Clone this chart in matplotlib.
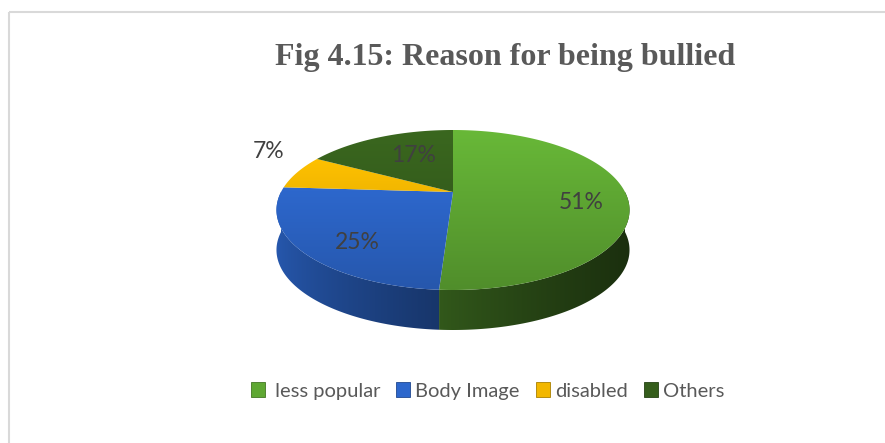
import numpy as np
import matplotlib
matplotlib.use("Agg")
import matplotlib.pyplot as plt
from matplotlib.patches import Polygon, Patch
from matplotlib.colors import to_rgb

# ---------------- data ----------------
categories = [" less popular", "Body Image", "disabled", "Others"]
values = [51, 25, 7, 17]
value_labels = ["51%", "25%", "7%", "17%"]
title = "Fig 4.15: Reason for being bullied"

# ---------------- style ----------------
colors = ["#5FA833", "#2D67CC", "#F2B700", "#355E1C"]
label_xy = [(581, 202), (357, 242), (269, 151), (414, 155)]  # text anchor positions (px)

W, H = 885, 443
fig = plt.figure(figsize=(W / 100, H / 100), dpi=100)
ax = fig.add_axes([0, 0, 1, 1])
ax.set_xlim(0, W)
ax.set_ylim(H, 0)
ax.axis("off")

# border (top and left only visible)
ax.plot([8.5, 8.5], [11.5, H], color="#D9D9D9", lw=1.5, solid_capstyle="butt")
ax.plot([8.5, W], [11.5, 11.5], color="#D9D9D9", lw=1.5, solid_capstyle="butt")

# ---------------- 3D pie geometry (perspective projection) ----------------
cx, cy = 453.0, 192.0      # projected pie centre
A = 172.0                  # horizontal scale
k = 0.225                  # perspective factor
p = -32.75                 # vertical scale term
depth = 40.0               # wall height in px


def proj(theta):
    u = np.sin(theta)
    v = np.cos(theta)
    d = 1 + k * v
    x = cx + A * u / d
    y = (p * v + cy) / d
    return x, y


def shade(c, f):
    return tuple(np.clip(np.array(to_rgb(c)) * f, 0, 1))


total = float(sum(values))
fracs = np.cumsum([0] + values) / total
starts = fracs[:-1] * 2 * np.pi
ends = fracs[1:] * 2 * np.pi

x_left, x_right = cx - 178, cx + 178
y_top, y_bot = 128, 332

ncols = 300
gx = np.linspace(0, 1, ncols)
gy = np.linspace(0, 1, 200)

# walls (front half only) with horizontal gradient
for i, (a0, a1) in enumerate(zip(starts, ends)):
    lo = max(a0, np.pi / 2)
    hi = min(a1, 3 * np.pi / 2)
    if hi <= lo:
        continue
    n = max(int(np.degrees(hi - lo) / 0.5), 2)
    th = np.linspace(lo, hi, n + 1)
    xs, ys = proj(th)
    pts = list(zip(xs, ys)) + list(zip(xs[::-1], ys[::-1] + depth))
    poly = Polygon(pts, closed=True, facecolor="none", edgecolor="none")
    ax.add_patch(poly)
    base = np.array(to_rgb(colors[i]))
    fac = 0.86 - 0.58 * gx ** 0.7
    img = np.clip(base[None, None, :] * fac[None, :, None], 0, 1)
    img = np.repeat(img, 2, axis=0)
    im = ax.imshow(img, extent=(x_left, x_right, y_bot, y_top),
                   origin="upper", aspect="auto", interpolation="bilinear", zorder=1)
    im.set_clip_path(poly)

# top faces with vertical gradient
ty0, ty1 = 128, 292
for i, (a0, a1) in enumerate(zip(starts, ends)):
    n = max(int(np.degrees(a1 - a0) / 0.5), 2)
    th = np.linspace(a0, a1, n + 1)
    xs, ys = proj(th)
    pts = [(cx, cy)] + list(zip(xs, ys))
    poly = Polygon(pts, closed=True, facecolor="none", edgecolor="none")
    ax.add_patch(poly)
    base = np.array(to_rgb(colors[i]))
    fac = 1.10 + (0.84 - 1.10) * gy
    img = np.clip(base[None, None, :] * fac[:, None, None], 0, 1)
    img = np.repeat(img, 2, axis=1)
    im = ax.imshow(img, extent=(x_left, x_right, ty1, ty0),
                   origin="upper", aspect="auto", interpolation="bilinear", zorder=2)
    im.set_clip_path(poly)

ax.set_xlim(0, W)
ax.set_ylim(H, 0)

# value labels
for (lx, ly), txt in zip(label_xy, value_labels):
    ax.text(lx, ly, txt, ha="center", va="center", fontsize=16.5,
            family="Lato", color="#404040", zorder=5)

# title
ax.text(505, 57, title, ha="center", va="center", fontsize=23,
        family="Liberation Serif", fontweight="bold", color="#595959")

# legend
handles = [Patch(facecolor=c, edgecolor=shade(c, 0.7), lw=0.6) for c in colors]
leg = fig.legend(handles, categories, loc="center", bbox_to_anchor=(487.5 / W, 1 - 391 / H),
                 ncol=4, frameon=False, handlelength=0.7, handleheight=0.7,
                 handletextpad=0.25, columnspacing=0.8,
                 prop={"family": "Lato", "size": 14.5})
for t in leg.get_texts():
    t.set_color("#595959")

fig.savefig("out.png", dpi=100, facecolor="white")
